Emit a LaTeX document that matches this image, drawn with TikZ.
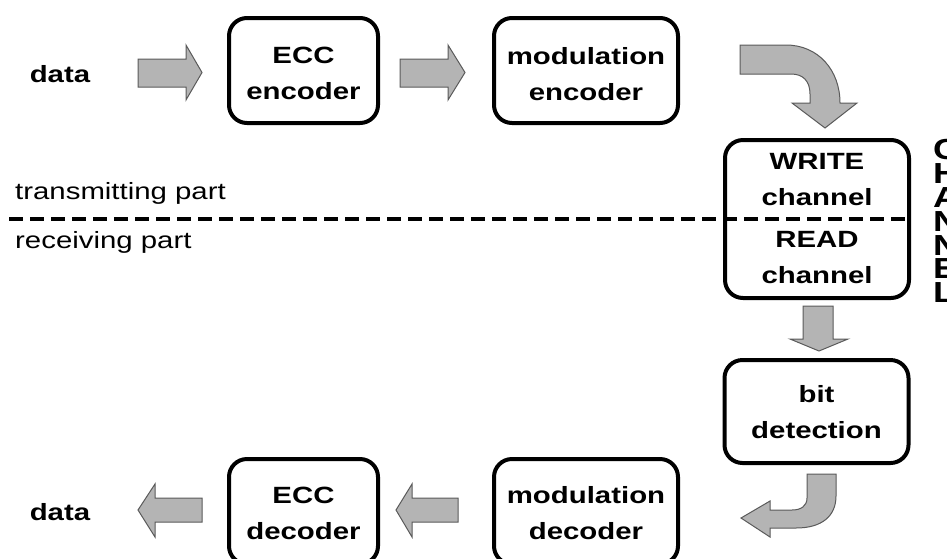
\documentclass[tikz,border=0pt]{standalone}
\usepackage{fontspec}
\setmainfont{Liberation Sans}[FakeStretch=1.25]
\usetikzlibrary{calc}
\definecolor{arrowfill}{HTML}{B4B4B4}
\definecolor{arrowedge}{HTML}{5A5A5A}
\tikzset{
  stage/.style={draw=black, line width=4pt, rounded corners=18pt, fill=white,
    inner sep=0pt, minimum width=184pt, minimum height=105pt},
  boxtext/.style={align=center, font=\fontsize{23.5}{36}\selectfont\bfseries, inner sep=0pt},
  plainlabel/.style={font=\fontsize{23.5}{28}\selectfont, inner sep=0pt, anchor=base west},
  datalabel/.style={font=\fontsize{23.5}{28}\selectfont\bfseries, inner sep=0pt, anchor=base},
  blockarrow/.style={fill=arrowfill, draw=arrowedge, line width=1pt, line join=miter},
  divider/.style={line width=4.5pt, dash pattern=on 14pt off 7pt},
}
\begin{document}
\begin{tikzpicture}[x=1pt,y=-1pt]
\useasboundingbox (0,0) rectangle (947,558);

% processing stages
\node[stage, minimum width=149pt] (enc)  at (303.5,70.5) {};
\node[stage]                      (menc) at (586,70.5) {};
\node[stage, minimum height=158pt] (ch)  at (817,219) {};
\node[stage, minimum height=103pt] (bit) at (816.5,411.5) {};
\node[stage]                      (mdec) at (586,511.5) {};
\node[stage, minimum width=149pt] (dec)  at (303.5,511.5) {};

% boundary between transmitter and receiver
\coordinate (divstart) at (9,219);
\draw[divider] (divstart) -- (ch.east);

% stage captions
\node[boxtext] (encT)  at (303.5,73.6) {ECC\\encoder};
\node[boxtext] (mencT) at (586,73.6)   {modulation\\encoder};
\node[boxtext] (chW)   at (817,180)    {WRITE\\channel};
\node[boxtext] (chR)   at (817,258)    {READ\\channel};
\node[boxtext] (bitT)  at (816.5,412)  {bit\\detection};
\node[boxtext] (mdecT) at (586,513.3)  {modulation\\decoder};
\node[boxtext] (decT)  at (303.5,513.6) {ECC\\decoder};

% side labels
\node[datalabel] (datain)  at (60,82)  {data};
\node[datalabel] (dataout) at (60,520) {data};
\node[plainlabel] (tx) at (15,199) {transmitting part};
\node[plainlabel] (rx) at (15,248) {receiving part};
\node[font=\fontsize{29}{23.8}\selectfont\bfseries, align=left, anchor=north west,
      inner sep=0pt] (chlabel) at (933,139.5) {C\\H\\A\\N\\N\\E\\L};

% block arrows of the transmitting part
\draw[blockarrow] (138,59) -- (186,59) -- (186,45) -- (202,72.5) -- (186,100)
  -- (186,87) -- (138,87) -- cycle;
\draw[blockarrow] (400,59) -- (448,59) -- (448,45) -- (465,72.5) -- (448,100)
  -- (448,87) -- (400,87) -- cycle;
\draw[blockarrow] (740,45) -- (786,45) .. controls (818,45) and (840,70) .. (840,103)
  -- (857,103) -- (825,128) -- (792,103) -- (810,103) -- (810,94)
  .. controls (810,81) and (803,74) .. (791,74) -- (740,74) -- cycle;

% block arrows of the receiving part
\draw[blockarrow] (803,306) -- (833,306) -- (833,339) -- (848,339) -- (819,351)
  -- (790,339) -- (803,339) -- cycle;
\draw[blockarrow] (807,474) -- (836,474) -- (836,496) .. controls (836,516) and (822,528) .. (796,528)
  -- (770,528) -- (770,537) -- (741,518) -- (770,501) -- (770,510) -- (792,510)
  .. controls (801,510) and (807,506) .. (807,498) -- cycle;
\draw[blockarrow] (458,498) -- (412,498) -- (412,484) -- (396,510) -- (412,537)
  -- (412,522) -- (458,522) -- cycle;
\draw[blockarrow] (202,498) -- (155,498) -- (155,484) -- (138,510) -- (155,537)
  -- (155,522) -- (202,522) -- cycle;
\end{tikzpicture}
\end{document}
